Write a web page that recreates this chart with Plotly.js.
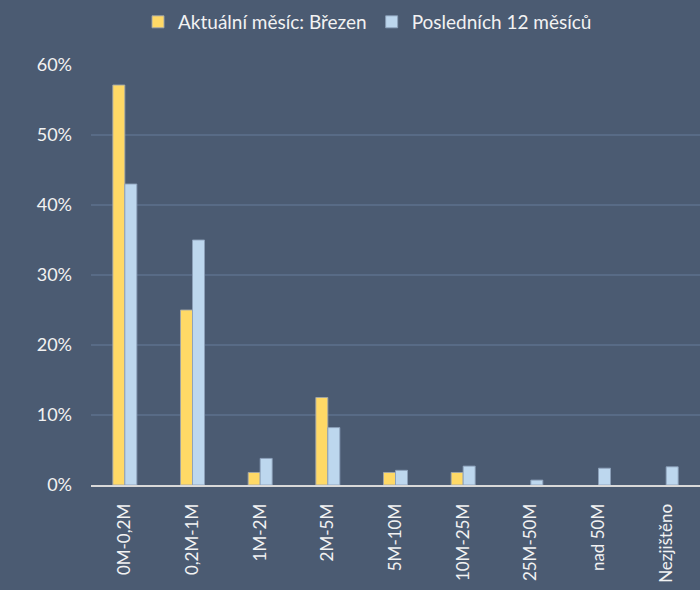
<!DOCTYPE html>
<html>
<head>
<meta charset="utf-8">
<script src="https://cdn.plot.ly/plotly-3.0.1.min.js"></script>
<style>
  body { margin: 0; background: #4b5b72; }
  #plot { width: 700px; height: 590px; }
</style>
</head>
<body>
<div id="plot"></div>
<script>
// categories (value bands)
let categories = ["0M-0,2M", "0,2M-1M", "1M-2M", "2M-5M", "5M-10M",
                  "10M-25M", "25M-50M", "nad 50M", "Nezjištěno"];

// share in %, current month (March)
let currentMonth = [57.14, 25.0, 1.79, 12.5, 1.79, 1.79, 0, 0, 0];

// share in %, last 12 months
let last12Months = [43.0, 35.0, 3.8, 8.2, 2.1, 2.7, 0.7, 2.4, 2.6];

let yTicks = [0, 10, 20, 30, 40, 50, 60];

// no outline on empty bars, so zero values leave no mark
let outline = vals => vals.map(v => (v > 0 ? 1 : 0));

let trace1 = {
  x: categories,
  y: currentMonth,
  type: "bar",
  name: "Aktuální měsíc: Březen",
  marker: { color: "#ffd966", line: { color: "rgba(160,165,170,0.9)", width: outline(currentMonth) } },
};

let trace2 = {
  x: categories,
  y: last12Months,
  type: "bar",
  name: "Posledních 12 měsíců",
  marker: { color: "#bdd7ee", line: { color: "rgba(140,160,185,0.9)", width: outline(last12Months) } },
};

let layout = {
  width: 700,
  height: 590,
  paper_bgcolor: "#4b5b72",
  plot_bgcolor: "#4b5b72",
  font: { family: "Lato, Open Sans, sans-serif", size: 19, color: "#f2f2f2" },
  margin: { l: 91, r: 0, t: 65, b: 105 },
  barmode: "group",
  bargap: 0.645,
  bargroupgap: 0,
  showlegend: true,
  legend: {
    orientation: "h",
    x: 0.525,
    xref: "container",
    xanchor: "center",
    y: 0.995,
    yref: "container",
    yanchor: "top",
    font: { size: 19, color: "#f2f2f2" },
    itemwidth: 30,
  },
  xaxis: {
    tickangle: -90,
    showgrid: false,
    showline: true,
    linecolor: "#d9d9d9",
    linewidth: 2,
    ticks: "",
    ticklabelstandoff: 10,
    tickfont: { size: 17, color: "#f2f2f2" },
    fixedrange: true,
  },
  yaxis: {
    range: [0, 60],
    tickvals: yTicks,
    ticktext: yTicks.map(v => v + "%"),
    showgrid: true,
    gridcolor: "#586b86",
    gridwidth: 1.5,
    zeroline: false,
    showline: false,
    ticks: "",
    ticklabelstandoff: 18,
    tickfont: { size: 18, color: "#f2f2f2" },
    fixedrange: true,
  },
};

Plotly.newPlot("plot", [trace1, trace2], layout, { displayModeBar: false, staticPlot: true });
</script>
</body>
</html>
